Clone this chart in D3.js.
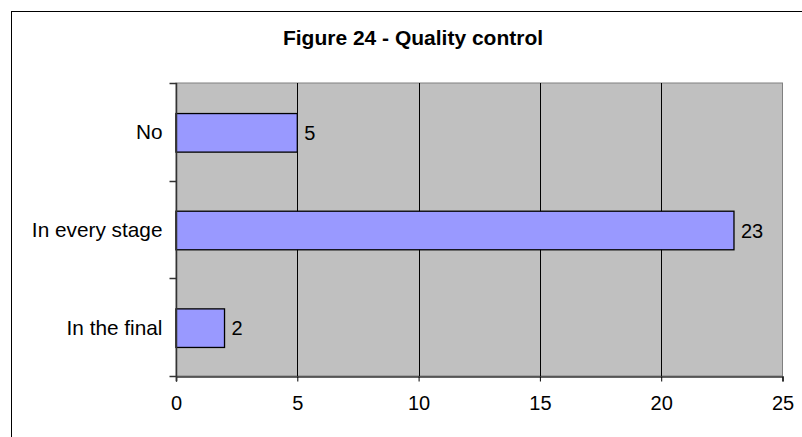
<!DOCTYPE html>
<html>
<head>
<meta charset="utf-8">
<script src="https://cdn.jsdelivr.net/npm/d3@7"></script>
<style>
  html, body { margin: 0; padding: 0; background: #fff; }
  svg { display: block; font-family: "Liberation Sans", Arial, sans-serif; }
</style>
</head>
<body>
<svg id="chart" width="802" height="437"></svg>
<script>
const title = "Figure 24 - Quality control";
const categories = ["No", "In every stage", "In the final"];
const values = [5, 23, 2];
const xTicks = [0, 5, 10, 15, 20, 25];

const svg = d3.select("#chart");
const W = 802, H = 437;
const m = { left: 176, right: 802 - 782.5, top: 83, bottom: 437 - 376 };

// outer frame (extends past right & bottom edge)
svg.append("rect")
  .attr("x", 11.5).attr("y", 11.5)
  .attr("width", 820).attr("height", 460)
  .attr("fill", "#fff").attr("stroke", "#000").attr("stroke-width", 1);

svg.append("text")
  .attr("x", 413).attr("y", 45)
  .attr("text-anchor", "middle")
  .attr("font-size", 21).attr("font-weight", "bold")
  .attr("fill", "#000")
  .text(title);

const x = d3.scaleLinear().domain([0, 25]).range([m.left, W - m.right]);
const y = d3.scaleBand().domain(categories).range([m.top, H - m.bottom]).padding(0);

// plot background
svg.append("rect")
  .attr("x", x(0)).attr("y", m.top)
  .attr("width", x(25) - x(0)).attr("height", H - m.bottom - m.top)
  .attr("fill", "#c0c0c0").attr("stroke", "#808080").attr("stroke-width", 1);

// vertical gridlines
svg.append("g").selectAll("line")
  .data(xTicks.filter(t => t > 0 && t < 25))
  .join("line")
  .attr("x1", d => Math.round(x(d)) + 0.5).attr("x2", d => Math.round(x(d)) + 0.5)
  .attr("y1", m.top).attr("y2", H - m.bottom)
  .attr("stroke", "#000").attr("stroke-width", 1);

// bars
const barH = y.bandwidth() * 0.395;
svg.append("g").selectAll("rect")
  .data(values)
  .join("rect")
  .attr("x", x(0))
  .attr("y", (d, i) => y(categories[i]) + y.bandwidth() / 2 - barH / 2 + 1)
  .attr("width", d => x(d) - x(0))
  .attr("height", barH)
  .attr("fill", "#9999ff").attr("stroke", "#000").attr("stroke-width", 1.3);

// value labels
svg.append("g").selectAll("text")
  .data(values)
  .join("text")
  .attr("x", d => x(d) + 7)
  .attr("y", (d, i) => y(categories[i]) + y.bandwidth() / 2 + 8)
  .attr("font-size", 20).attr("fill", "#000")
  .text(d => d);

// x axis
const xAxis = d3.axisBottom(x).tickValues(xTicks).tickSize(5).tickPadding(14);
const gx = svg.append("g")
  .attr("transform", `translate(0,${H - m.bottom + 0.5})`)
  .call(xAxis);
gx.select(".domain").attr("stroke", "#333").attr("stroke-width", 1.5);
gx.selectAll(".tick line").attr("stroke", "#000");
gx.selectAll(".tick text").attr("font-size", 20).attr("fill", "#000")
  .attr("font-family", "Liberation Sans, Arial, sans-serif");

// y axis with ticks at category boundaries
const gy = svg.append("g").attr("transform", `translate(${m.left + 0.5},0)`);
gy.append("line")
  .attr("x1", 0).attr("x2", 0).attr("y1", m.top).attr("y2", H - m.bottom + 5)
  .attr("stroke", "#333").attr("stroke-width", 1.5);
const boundaries = categories.map(c => y(c)).concat([H - m.bottom]);
gy.selectAll(".ytick").data(boundaries).join("line")
  .attr("class", "ytick")
  .attr("x1", -7).attr("x2", 0)
  .attr("y1", d => Math.round(d) + 0.5).attr("y2", d => Math.round(d) + 0.5)
  .attr("stroke", "#333").attr("stroke-width", 1.5);
gy.selectAll(".ylab").data(categories).join("text")
  .attr("class", "ylab")
  .attr("x", -14)
  .attr("y", d => y(d) + y.bandwidth() / 2 + 7.5)
  .attr("text-anchor", "end")
  .attr("font-size", 20.8).attr("fill", "#000")
  .text(d => d);
</script>
</body>
</html>
